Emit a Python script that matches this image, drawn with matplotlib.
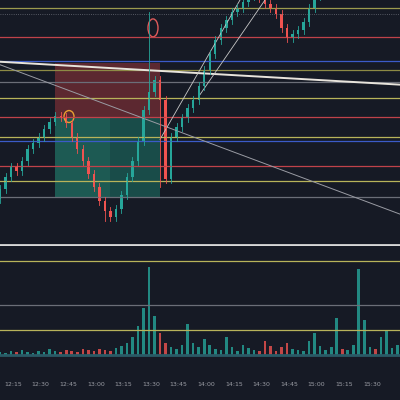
import matplotlib
matplotlib.use("Agg")
from matplotlib import pyplot as plt
from matplotlib.patches import Rectangle, Ellipse

# price in "screen units" (400 - pixel row), 3-minute candles starting 12:06
closes = [210, 222, 232, 228, 238, 250, 256, 262, 270, 278, 284, 283, 276, 262, 250,
          238, 225, 212, 198, 188, 182, 190, 204, 222, 238, 258, 290, 308, 320, 300,
          220, 262, 272, 282, 292, 300, 314, 330, 346, 360, 372, 380, 388, 392, 398,
          404, 406, 402, 396, 392, 386, 372, 362, 366, 370, 378, 392, 404, 414, 420,
          425, 430, 428, 435, 440, 446, 450, 455, 452, 458, 462, 466, 470]
opens = [200] + closes[:-1]
highs = [max(o, c) + 4 for o, c in zip(opens, closes)]
lows = [min(o, c) - 4 for o, c in zip(opens, closes)]
highs[27] = 388
lows[29] = 212
lows[19] = 178
volumes = [3, 2, 4, 3, 5, 3, 2, 4, 3, 6, 4, 3, 5, 4, 3, 6, 5, 4, 6, 5, 4, 7, 9, 12, 18, 30,
           48, 90, 40, 22, 12, 8, 6, 10, 32, 12, 8, 16, 10, 6, 5, 18, 8, 4, 10, 7, 5, 4, 14, 9,
           4, 8, 12, 6, 5, 4, 14, 22, 9, 5, 8, 38, 6, 5, 10, 88, 36, 8, 6, 18, 25, 7, 10]
tick_labels = ["12:15", "12:30", "12:45", "13:00", "13:15", "13:30", "13:45", "14:00",
               "14:15", "14:30", "14:45", "15:00", "15:15", "15:30"]
hlines = [(392, "#9c9a4e"), (363, "#c0424a"), (339, "#3b5bc8"), (330, "#8d8a45"),
          (318, "#6b6e78"), (302, "#b8b35a"), (283, "#c0424a"), (262, "#b8b35a"),
          (258, "#3b5bc8"), (233, "#c0424a"), (218, "#b8b35a"), (202, "#6b6e78")]

bg = "#161a25"
up, down = "#26a69a", "#ef5350"
fig = plt.figure(figsize=(4, 4), dpi=100, facecolor=bg)
ax = fig.add_axes([0, 0.385, 1, 0.615], facecolor=bg)
av = fig.add_axes([0, 0.04, 1, 0.34], facecolor=bg)

step = 5.52  # pixels per 3 minutes
xs = [i * step for i in range(len(closes))]

for y, c in hlines:
    ax.axhline(y, color=c, lw=0.9)
ax.axhline(386, color="#6b6e78", lw=0.6, ls=":")
ax.add_patch(Rectangle((55, 283), 105, 54, color="#7a2e35", alpha=0.7, lw=0))
ax.add_patch(Rectangle((55, 202), 105, 81, color="#1f6b5f", alpha=0.8, lw=0))
ax.add_patch(Rectangle((110, 202), 50, 81, color="#163f40", alpha=0.5, lw=0))
ax.plot([0, 400], [338, 315], color="#e8e4dc", lw=1.4)
ax.plot([0, 400], [335, 185], color="#9a9ca4", lw=0.7)
ax.plot([160, 240], [260, 400], color="#c8c8c8", lw=0.6)
ax.plot([200, 265], [305, 400], color="#c8c8c8", lw=0.6)

for x, o, c, h, l in zip(xs, opens, closes, highs, lows):
    col = up if c >= o else down
    ax.plot([x, x], [l, h], color=col, lw=0.6)
    ax.add_patch(Rectangle((x - 1.2, min(o, c)), 2.4, max(abs(c - o), 0.8), color=col, lw=0))
ax.add_patch(Ellipse((153, 372), 10, 18, fill=False, color="#e05a5a", lw=1))
ax.add_patch(Ellipse((69, 283), 10, 12, fill=False, color="#e8a030", lw=1))
ax.set_xlim(0, 400)
ax.set_ylim(153, 400)
ax.axhline(154, color="#d8d8d8", lw=2)
ax.axis("off")

for y, c in [(127, "#b8b35a"), (81, "#6b6e78"), (56, "#b8b35a")]:
    av.axhline(y, color=c, lw=0.9)
for x, o, c, v in zip(xs, opens, closes, volumes):
    av.bar(x, v, width=2.6, bottom=30, color=up if c >= o else down, alpha=0.8)
av.axhline(30, color="#2a5a66", lw=2)
av.set_xlim(0, 400)
av.set_ylim(0, 140)
av.set_xticks([])
av.set_yticks([])
for s in av.spines.values():
    s.set_visible(False)
for i, t in enumerate(tick_labels):
    fig.text((13 + i * 27.6) / 400, 0.035, t, color="#9a9ca4", fontsize=4.5, ha="center")

fig.savefig("out.png", facecolor=bg)
